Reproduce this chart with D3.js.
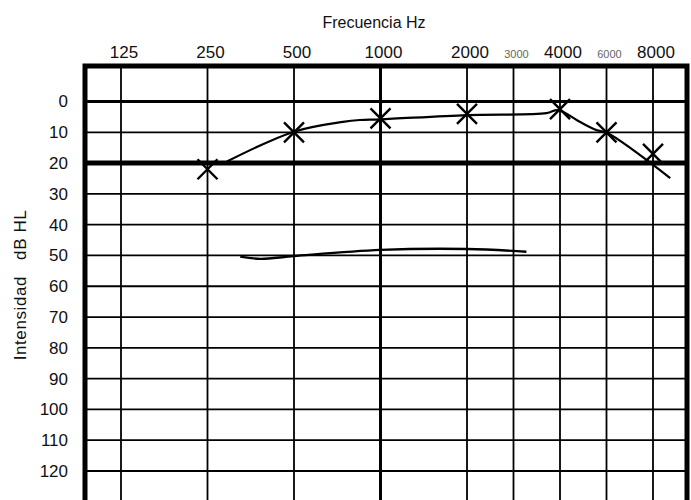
<!DOCTYPE html>
<html>
<head>
<meta charset="utf-8">
<script src="https://cdn.jsdelivr.net/npm/d3@7"></script>
<style>
  body { margin: 0; background: #fff; }
  svg { display: block; }
  text { font-family: "Liberation Sans", Arial, sans-serif; fill: #111; }
</style>
</head>
<body>
<svg width="691" height="500"></svg>
<script>
// audiogram values
var freqs = [125, 250, 500, 1000, 2000, 3000, 4000, 6000, 8000];
var freqLabels = ["125", "250", "500", "1000", "2000", "3000", "4000", "6000", "8000"];
var minorFreqs = [3000, 6000];
var dbTicks = [0, 10, 20, 30, 40, 50, 60, 70, 80, 90, 100, 110, 120];

// X marks (air conduction)
var markFreq = [250, 500, 1000, 2000, 4000, 6000, 8000];
var markDb = [22, 10, 5.5, 4, 2.5, 10, 17];

// hand drawn line joining the marks
var curveFreq = [292, 500, 740, 848, 1000, 2000, 3680, 3950, 4750, 5500, 6000, 8900];
var curveDb = [19.5, 9.8, 6.6, 6.0, 5.8, 4.4, 3.8, 2.8, 6.6, 9.3, 10.1, 24.9];

// lower line around 50 dB
var lowFreq = [325, 382, 500, 1000, 2000, 3250];
var lowDb = [50.4, 51.1, 50.2, 48.2, 47.9, 48.8];

var svg = d3.select("svg");

// octave position of each frequency (3000 and 6000 sit half way)
var idx = d3.scaleLog()
    .domain(freqs)
    .range([0, 1, 2, 3, 4, 4.5, 5, 5.5, 6]);

var xi = d3.scaleLinear()
    .domain([0, 4, 6])
    .range([121, 467, 653]);

function x(f) { return xi(idx(f)); }

var y = d3.scaleLinear()
    .domain([0, 120])
    .range([101.5, 471]);

var left = 85, right = 687, yTop = y(-11.5), yBottom = 500;

var grid = svg.append("g");

// vertical lines
grid.selectAll(".vline")
    .data(freqs)
  .enter().append("line")
    .attr("class", "vline")
    .attr("x1", function(d) { return x(d); })
    .attr("x2", function(d) { return x(d); })
    .attr("y1", yTop)
    .attr("y2", yBottom)
    .attr("stroke", "#000")
    .attr("stroke-width", function(d) { return d == 1000 ? 3 : 1.8; });

// horizontal lines
grid.selectAll(".hline")
    .data(dbTicks)
  .enter().append("line")
    .attr("class", "hline")
    .attr("x1", left)
    .attr("x2", right)
    .attr("y1", function(d) { return y(d); })
    .attr("y2", function(d) { return y(d); })
    .attr("stroke", "#000")
    .attr("stroke-width", function(d) {
      if (d == 20) return 5;
      if (d == 0) return 3.2;
      return 1.8;
    });

// frame
grid.append("path")
    .attr("d", "M" + left + "," + yBottom + "V" + yTop + "H" + right + "V" + yBottom)
    .attr("fill", "none")
    .attr("stroke", "#000")
    .attr("stroke-width", 5);

// frequency labels
svg.selectAll(".flabel")
    .data(freqs)
  .enter().append("text")
    .attr("class", "flabel")
    .attr("x", function(d) { return x(d) + 3; })
    .attr("y", 58)
    .attr("text-anchor", "middle")
    .style("font-size", function(d) { return minorFreqs.indexOf(d) >= 0 ? "11px" : "17px"; })
    .style("fill", function(d) { return minorFreqs.indexOf(d) >= 0 ? "#666" : "#111"; })
    .text(function(d, i) { return freqLabels[i]; });

svg.append("text")
    .attr("x", 374)
    .attr("y", 28)
    .attr("text-anchor", "middle")
    .style("font-size", "16px")
    .text("Frecuencia Hz");

// dB labels
svg.selectAll(".dlabel")
    .data(dbTicks)
  .enter().append("text")
    .attr("class", "dlabel")
    .attr("x", 68)
    .attr("y", function(d) { return y(d); })
    .attr("dy", "0.35em")
    .attr("text-anchor", "end")
    .style("font-size", "17px")
    .text(function(d) { return d; });

svg.append("text")
    .attr("transform", "translate(26,285) rotate(-90)")
    .attr("text-anchor", "middle")
    .attr("xml:space", "preserve")
    .style("font-size", "17px")
    .style("letter-spacing", "0.6px")
    .text("Intensidad   dB HL");

// curves
var line = d3.line()
    .x(function(d) { return x(d[0]); })
    .y(function(d) { return y(d[1]); })
    .curve(d3.curveCatmullRom.alpha(0.5));

svg.append("path")
    .datum(d3.zip(curveFreq, curveDb))
    .attr("d", line)
    .attr("fill", "none")
    .attr("stroke", "#000")
    .attr("stroke-width", 2.2);

svg.append("path")
    .datum(d3.zip(lowFreq, lowDb))
    .attr("d", line)
    .attr("fill", "none")
    .attr("stroke", "#000")
    .attr("stroke-width", 2.4);

// X marks
var s = 10;
svg.selectAll(".mark")
    .data(d3.zip(markFreq, markDb))
  .enter().append("path")
    .attr("class", "mark")
    .attr("transform", function(d) { return "translate(" + x(d[0]) + "," + y(d[1]) + ")"; })
    .attr("d", "M" + (-s) + "," + (-s) + "L" + s + "," + s + "M" + (-s) + "," + s + "L" + s + "," + (-s))
    .attr("fill", "none")
    .attr("stroke", "#000")
    .attr("stroke-width", 2.4);
</script>
</body>
</html>
